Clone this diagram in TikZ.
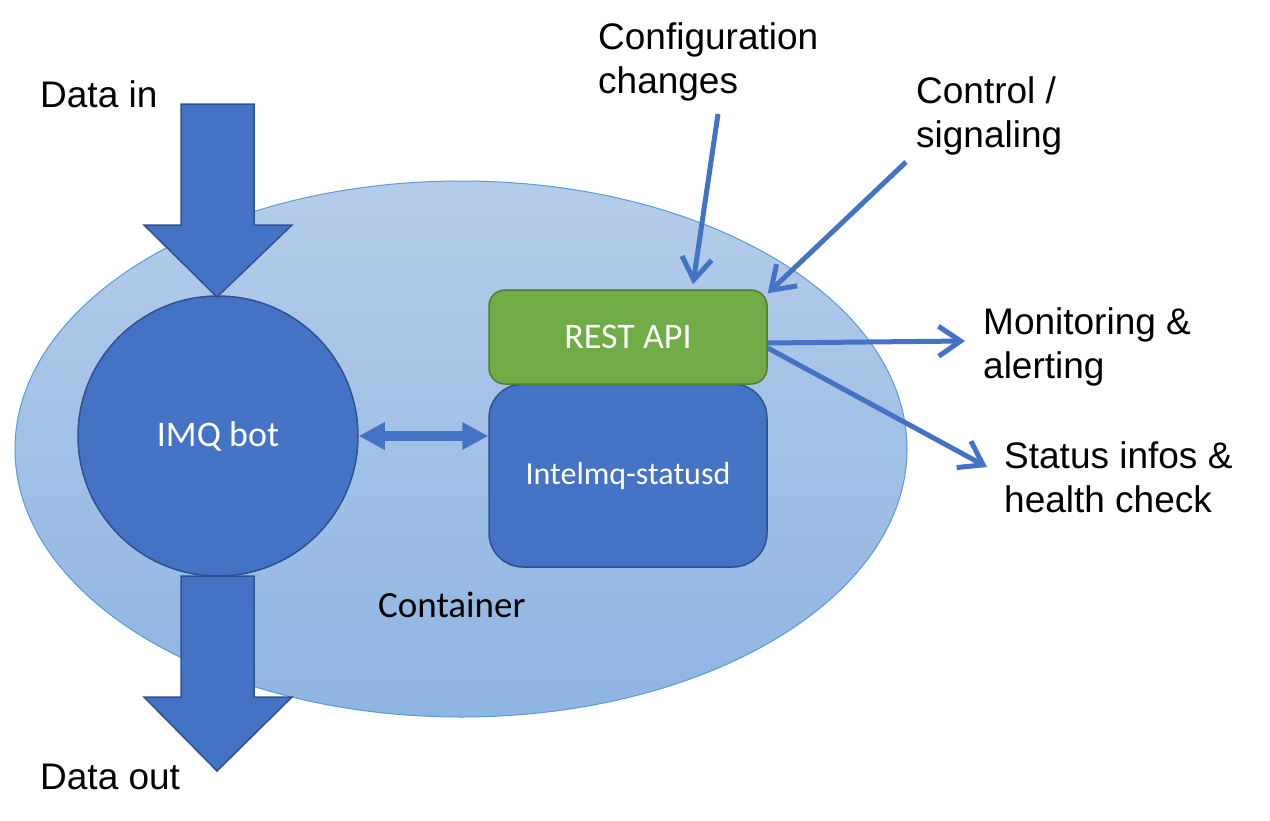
\documentclass[tikz,border=0pt]{standalone}
\usepackage{fontspec}
\setmainfont{Liberation Sans}
\newfontfamily\calfont{Carlito}
\usetikzlibrary{arrows.meta,calc}
\definecolor{dblue}{HTML}{4472C4}
\definecolor{dbord}{HTML}{2F528F}
\definecolor{greenfill}{HTML}{70AD47}
\definecolor{greenbord}{HTML}{507E32}
\definecolor{elltop}{RGB}{180,204,233}
\definecolor{ellbot}{RGB}{143,181,227}
\definecolor{ellbord}{HTML}{5B9BD5}
\tikzset{
  lbl/.style={font=\fontsize{37}{44}\selectfont, align=left, anchor=base west, inner sep=0pt},
  blk/.style={fill=dblue, draw=dbord, line width=1.5pt, line join=miter},
  conn/.style={draw=dblue, line width=5pt, -{Straight Barb[length=22pt,width=30pt]}},
  intext/.style={text=white, font=\calfont\fontsize{36}{40}\selectfont},
}
\begin{document}
\begin{tikzpicture}[x=1pt,y=-1pt]
\useasboundingbox (0,0) rectangle (1270,820);
% container ellipse
\shade[top color=elltop, bottom color=ellbot] (461,449) ellipse [x radius=446, y radius=268];
\draw[ellbord, line width=1pt] (461,449) ellipse [x radius=446, y radius=268];
\node[anchor=base west, inner sep=0pt, font=\calfont\fontsize{37}{44}\selectfont] (cont) at (378,617) {Container};
% bot
\node[circle, minimum size=280pt, inner sep=0pt, blk, intext] (imq) at (218,436) {IMQ bot};
% big arrows
\draw[blk] (181,104) -- (254,104) -- (254,225) -- (292,225) -- (217,297) -- (144,225) -- (181,225) -- cycle;
\draw[blk] (181,576) -- (254,576) -- (254,697) -- (292,697) -- (217,771) -- (144,697) -- (181,697) -- cycle;
% statusd and REST
\node[rectangle, rounded corners=34pt, blk, minimum width=278pt, minimum height=183pt, intext, font=\calfont\fontsize{32}{36}\selectfont] (stat) at (628,475.5) {Intelmq-statusd};
\node[rectangle, rounded corners=16pt, fill=greenfill, draw=greenbord, line width=1.5pt, minimum width=278pt, minimum height=94pt, intext] (rest) at (628,337) {REST API};
% double arrow
\draw[dblue, line width=10pt, {Triangle[length=26pt,width=26pt]}-{Triangle[length=26pt,width=26pt]}] (imq.east) -- (imq.east -| stat.west);
% labels
\node[lbl] (din) at (40,107) {Data in};
\node[lbl] (dout) at (40,789) {Data out};
\node[lbl] (cfg) at (598,93) {Configuration\\changes};
\node[lbl] (ctl) at (916,147) {Control /\\signaling};
\node[lbl] (mon) at (983,378) {Monitoring \&\\alerting};
\node[lbl] (sts) at (1004,512) {Status infos \&\\health check};
% connectors
\coordinate (cfgtail) at (718,114);
\coordinate (ctltail) at (906,162);
\coordinate (montip) at (965,341);
\coordinate (ststip) at (987,467);
\draw[conn] (cfgtail) -- ($(rest.north)+(65,-5)$);
\draw[conn] (ctltail) -- ($(rest.north east)+(0,4)$);
\draw[conn] ($(rest.east)+(0,6)$) -- (montip);
\draw[conn] ($(rest.east)+(0,11)$) -- (ststip);
\end{tikzpicture}
\end{document}
